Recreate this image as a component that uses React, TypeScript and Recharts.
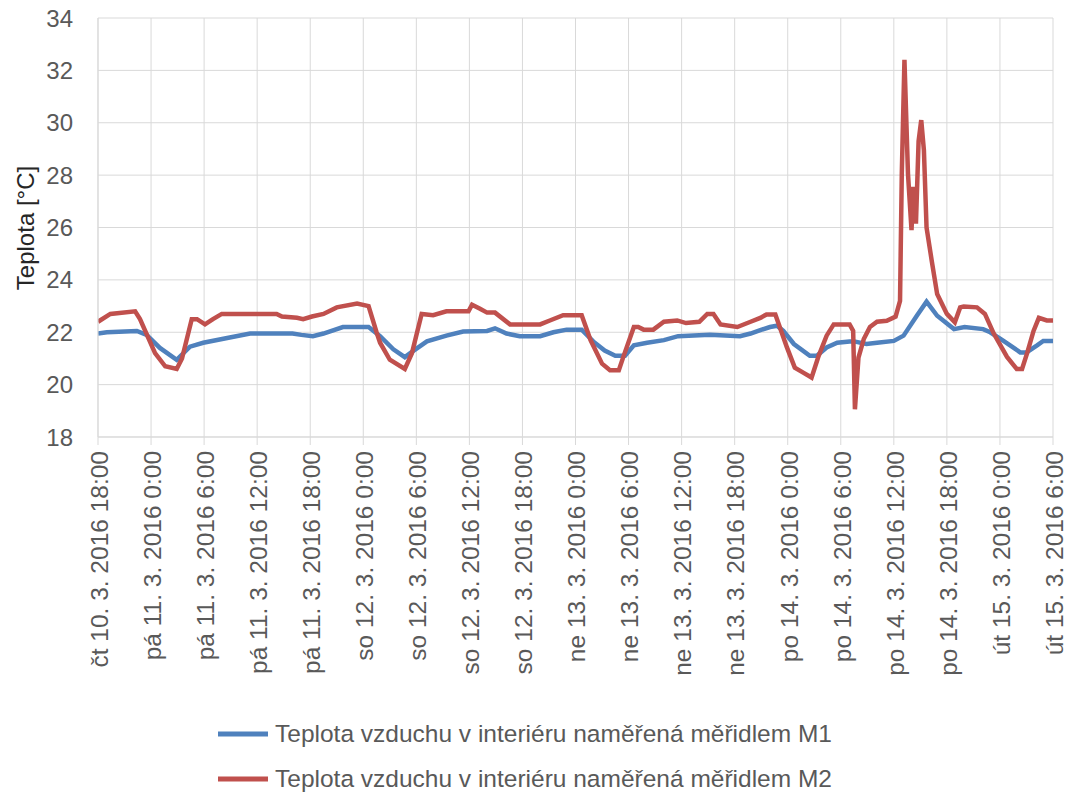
import React from 'react'
import { CartesianGrid, Label, Line, LineChart, XAxis, YAxis } from 'recharts'

// hours since čt 10. 3. 2016 18:00
const xTickHours = [0, 6, 12, 18, 24, 30, 36, 42, 48, 54, 60, 66, 72, 78, 84, 90, 96, 102, 108]
const xTickLabels = [
  'čt 10. 3. 2016 18:00', 'pá 11. 3. 2016 0:00', 'pá 11. 3. 2016 6:00', 'pá 11. 3. 2016 12:00',
  'pá 11. 3. 2016 18:00', 'so 12. 3. 2016 0:00', 'so 12. 3. 2016 6:00', 'so 12. 3. 2016 12:00',
  'so 12. 3. 2016 18:00', 'ne 13. 3. 2016 0:00', 'ne 13. 3. 2016 6:00', 'ne 13. 3. 2016 12:00',
  'ne 13. 3. 2016 18:00', 'po 14. 3. 2016 0:00', 'po 14. 3. 2016 6:00', 'po 14. 3. 2016 12:00',
  'po 14. 3. 2016 18:00', 'út 15. 3. 2016 0:00', 'út 15. 3. 2016 6:00',
]
const yTicks = [18, 20, 22, 24, 26, 28, 30, 32, 34]

const seriesNames = [
  'Teplota vzduchu v interiéru naměřená měřidlem M1',
  'Teplota vzduchu v interiéru naměřená měřidlem M2',
]
const seriesColors = ['#4F81BD', '#C0504D']

const m1Hours = [0, 1, 4.4, 5.5, 7, 8.9, 10.4, 11.9, 14.9, 17.2, 22, 23, 24.3, 25.5, 27.7, 30.6, 31.9, 33.4,
  34.7, 35.7, 37.2, 39.4, 41.3, 44, 44.9, 46.2, 47.7, 50, 51.5, 53, 54.7, 56, 57.3, 58.5, 59.6, 60.6, 62.1,
  64, 65.6, 69.2, 72.6, 73.8, 74.9, 76, 76.8, 77.5, 78.7, 80.5, 81.3, 82.4, 83.6, 85, 85.5, 86.9, 88.1, 90,
  91.1, 92.6, 93.7, 94.9, 96.8, 98, 100.1, 100.9, 102.4, 104.3, 105, 106.2, 106.9, 108]
const m1Values = [21.95, 22.0, 22.05, 21.9, 21.4, 20.95, 21.45, 21.6, 21.8, 21.95, 21.95, 21.9, 21.85, 21.95,
  22.2, 22.2, 21.85, 21.35, 21.05, 21.3, 21.65, 21.87, 22.03, 22.05, 22.15, 21.95, 21.85, 21.85, 22.0, 22.1,
  22.1, 21.65, 21.3, 21.1, 21.1, 21.5, 21.6, 21.7, 21.85, 21.9, 21.85, 21.95, 22.08, 22.2, 22.25, 22.05,
  21.55, 21.1, 21.1, 21.42, 21.6, 21.65, 21.65, 21.55, 21.6, 21.67, 21.87, 22.63, 23.17, 22.63, 22.12, 22.2,
  22.12, 22.0, 21.67, 21.23, 21.23, 21.5, 21.67, 21.67]

const m2Hours = [0, 1.4, 4.2, 4.75, 6.45, 7.6, 8.9, 9.5, 10.6, 11.2, 12.1, 13, 14, 20.2, 20.8, 22.5, 23.2,
  24.2, 25.5, 27, 29.3, 30.6, 31.5, 31.9, 33, 34.7, 35.5, 36.6, 37.9, 39.4, 41.9, 42.3, 43.2, 44, 44.9, 46.6,
  50, 51.1, 52.6, 54.7, 55.7, 57, 57.9, 58.9, 59.4, 60.6, 61.1, 61.7, 62.8, 64, 65.5, 66.5, 68, 68.9, 69.6,
  70.4, 72.3, 73.8, 74.9, 75.6, 76.6, 77.1, 77.9, 78.8, 79.8, 80.7, 81.5, 82.4, 83.2, 85, 85.4, 85.6, 86,
  86.6, 87.3, 88.1, 89.2, 90.2, 90.7, 90.9, 91.2, 91.6, 92, 92.2, 92.5, 92.8, 93.1, 93.4, 93.7, 94.3, 94.9,
  96, 96.9, 97.5, 97.9, 99.4, 100.3, 101.3, 102.8, 103.9, 104.5, 105.1, 105.8, 106.4, 107.3, 108]
const m2Values = [22.4, 22.7, 22.8, 22.5, 21.2, 20.7, 20.6, 21.0, 22.5, 22.5, 22.3, 22.5, 22.7, 22.7, 22.6,
  22.55, 22.5, 22.6, 22.7, 22.95, 23.1, 23.0, 22.0, 21.6, 20.95, 20.6, 21.2, 22.7, 22.65, 22.8, 22.8, 23.05,
  22.9, 22.75, 22.75, 22.3, 22.3, 22.45, 22.65, 22.65, 21.7, 20.8, 20.55, 20.55, 21.05, 22.2, 22.2, 22.1,
  22.1, 22.4, 22.45, 22.35, 22.4, 22.7, 22.7, 22.3, 22.2, 22.4, 22.55, 22.68, 22.68, 22.2, 21.43, 20.65,
  20.45, 20.27, 21.1, 21.87, 22.3, 22.3, 22.05, 19.06, 21.03, 21.74, 22.2, 22.4, 22.44, 22.6, 23.2, 28.05,
  32.4, 28.05, 25.9, 27.55, 26.15, 29.3, 30.1, 28.95, 26.0, 24.7, 23.46, 22.7, 22.38, 22.95, 22.98, 22.95,
  22.7, 21.95, 21.06, 20.6, 20.6, 21.23, 22.05, 22.55, 22.45, 22.45]

const m1Data = m1Hours.map((h, i) => ({ h, v: m1Values[i] }))
const m2Data = m2Hours.map((h, i) => ({ h, v: m2Values[i] }))

const FONT = '"Liberation Sans", Arial, sans-serif'
const TEXT = '#595959'
const GRID = '#d9d9d9'

const XTick = ({ x, y, payload }: any) => {
  const idx = xTickHours.indexOf(payload.value)
  return (
    <text x={x} y={y} transform={`rotate(-90, ${x}, ${y})`} textAnchor="end" dy="0.4em"
      fill={TEXT} fontSize={24.5} fontFamily={FONT}>
      {xTickLabels[idx]}
    </text>
  )
}

function App() {
  return (
    <div style={{ position: 'absolute', left: 0, top: 0, width: 1073, height: 799, background: '#fff' }}>
      <LineChart width={1073} height={799} margin={{ top: 18, right: 20, bottom: 122, left: 0 }}>
        <CartesianGrid stroke={GRID} strokeWidth={1} />
        <XAxis
          type="number"
          dataKey="h"
          domain={[0, 108]}
          ticks={xTickHours}
          interval={0}
          height={240}
          stroke={GRID}
          tickSize={8}
          tickMargin={6}
          tick={<XTick />}
          allowDataOverflow
        />
        <YAxis
          type="number"
          domain={[18, 34]}
          ticks={yTicks}
          width={98}
          axisLine={{ stroke: GRID }}
          tickLine={false}
          tickSize={0}
          tickMargin={25}
          tick={{ fill: TEXT, fontSize: 24, fontFamily: FONT }}
        >
          <Label
            content={() => (
              <text x={25} y={228} transform="rotate(-90, 25, 228)" textAnchor="middle" dy="0.36em"
                fill="#262626" fontSize={24} fontFamily={FONT}>
                Teplota [°C]
              </text>
            )}
          />
        </YAxis>
        <Line data={m1Data} dataKey="v" name={seriesNames[0]} type="linear" stroke={seriesColors[0]}
          strokeWidth={4.5} dot={false} isAnimationActive={false} />
        <Line data={m2Data} dataKey="v" name={seriesNames[1]} type="linear" stroke={seriesColors[1]}
          strokeWidth={4.5} dot={false} isAnimationActive={false} />
      </LineChart>
      <div style={{ position: 'absolute', left: 218, top: 711, fontFamily: FONT, fontSize: 24.5, color: TEXT }}>
        {seriesNames.map((name, i) => (
          <div key={name} style={{ display: 'flex', alignItems: 'center', height: 45 }}>
            <svg width={57} height={10}>
              <line x1={0} y1={5} x2={50} y2={5} stroke={seriesColors[i]} strokeWidth={5} />
            </svg>
            <span>{name}</span>
          </div>
        ))}
      </div>
    </div>
  )
}

export default App
